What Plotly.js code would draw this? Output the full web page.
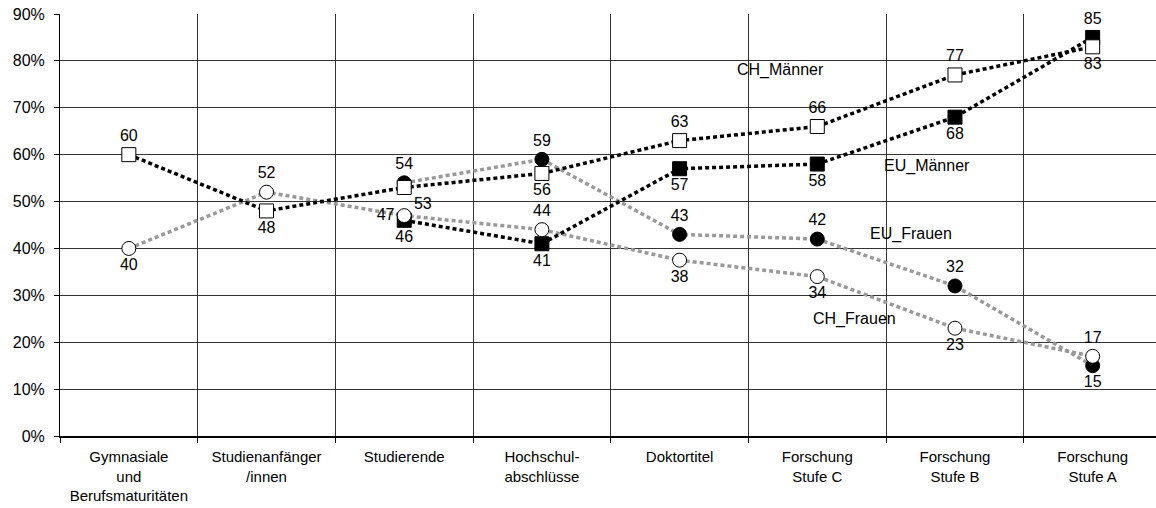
<!DOCTYPE html>
<html>
<head>
<meta charset="utf-8">
<script src="https://cdn.plot.ly/plotly-3.0.1.min.js"></script>
<style>html,body{margin:0;padding:0;background:#fff;}#chart{width:1156px;height:508px;}</style>
</head>
<body>
<div id="chart"></div>
<script>
var categories = [
  "Gymnasiale<br>und<br>Berufsmaturitäten",
  "Studienanfänger<br>/innen",
  "Studierende",
  "Hochschul-<br>abschlüsse",
  "Doktortitel",
  "Forschung<br>Stufe C",
  "Forschung<br>Stufe B",
  "Forschung<br>Stufe A"
];
var chMaenner = [60, 48, 53, 56, 63, 66, 77, 83];
var euMaenner = [null, null, 46, 41, 57, 58, 68, 85];
var chFrauen  = [40, 52, 47, 44, 37.5, 34, 23, 17];
var euFrauen  = [null, null, 54, 59, 43, 42, 32, 15];
var seriesNames = ["CH_Männer", "EU_Männer", "CH_Frauen", "EU_Frauen"];
var yTicks = [0, 10, 20, 30, 40, 50, 60, 70, 80, 90];
var yTickText = yTicks.map(function(v){return v + "%";});

var FONT = "Liberation Sans, Arial, Helvetica, sans-serif";
var FS = 16;
var black = "#000000", grey = "#999999";

var chMPos = ["top center","bottom center","bottom right","bottom center","top center","top center","top center","bottom center"];
var euMPos = ["","","bottom center","bottom center","bottom center","bottom center","bottom center","top center"];
var chFPos = ["bottom center","top center","middle left","top center","bottom center","bottom center","bottom center","top center"];
var euFPos = ["","","top center","top center","top center","top center","top center","bottom center"];

function lineTrace(y, color) {
  return {x: categories, y: y, type: "scatter", mode: "lines", connectgaps: false,
    line: {color: color, width: 3.5, dash: "4px,3px"}, hoverinfo: "skip", showlegend: false};
}
function markTrace(y, name, symbol, fill, pos) {
  return {x: categories, y: y, type: "scatter", mode: "markers+text", name: name,
    marker: {symbol: symbol, size: 14, color: fill, line: {color: black, width: 1}},
    text: y.map(function(v){return v === null ? "" : String(Math.round(v));}),
    textposition: pos, textfont: {family: FONT, size: FS, color: black},
    cliponaxis: false, showlegend: false};
}

var data = [
  lineTrace(euFrauen, grey),
  lineTrace(chFrauen, grey),
  lineTrace(euMaenner, black),
  lineTrace(chMaenner, black),
  markTrace(euMaenner, seriesNames[1], "square", black, euMPos),
  markTrace(euFrauen, seriesNames[3], "circle", black, euFPos),
  markTrace(chMaenner, seriesNames[0], "square", "#ffffff", chMPos),
  markTrace(chFrauen, seriesNames[2], "circle", "#ffffff", chFPos)
];

var layout = {
  width: 1156, height: 508,
  margin: {l: 60, r: 0, t: 14, b: 72},
  paper_bgcolor: "#ffffff", plot_bgcolor: "#ffffff",
  font: {family: FONT, size: FS, color: black},
  showlegend: false,
  xaxis: {
    type: "category", range: [-0.5, 7.46], tickson: "boundaries", ticks: "outside", ticklen: 5, tickcolor: black,
    showgrid: true, gridcolor: "#333333", gridwidth: 1,
    showline: true, linecolor: black, linewidth: 2,
    ticklabelstandoff: 6,
    tickfont: {family: FONT, size: 15, color: black}, fixedrange: true
  },
  yaxis: {
    range: [0, 90], tickmode: "array", tickvals: yTicks, ticktext: yTickText,
    ticks: "outside", ticklen: 5, tickcolor: black,
    showgrid: true, gridcolor: "#333333", gridwidth: 1, zeroline: false,
    showline: true, linecolor: black, linewidth: 1,
    ticklabelstandoff: 6,
    tickfont: {family: FONT, size: FS, color: black}, fixedrange: true
  },
  annotations: [
    {x: 4.73, y: 78, xref: "x", yref: "y", text: seriesNames[0], showarrow: false, font: {family: FONT, size: FS, color: black}},
    {x: 5.8, y: 57.6, xref: "x", yref: "y", text: seriesNames[1], showarrow: false, font: {family: FONT, size: FS, color: black}},
    {x: 5.68, y: 43.1, xref: "x", yref: "y", text: seriesNames[3], showarrow: false, font: {family: FONT, size: FS, color: black}},
    {x: 5.27, y: 24.9, xref: "x", yref: "y", text: seriesNames[2], showarrow: false, font: {family: FONT, size: FS, color: black}}
  ]
};

Plotly.newPlot("chart", data, layout, {displayModeBar: false, staticPlot: true});
</script>
</body>
</html>
